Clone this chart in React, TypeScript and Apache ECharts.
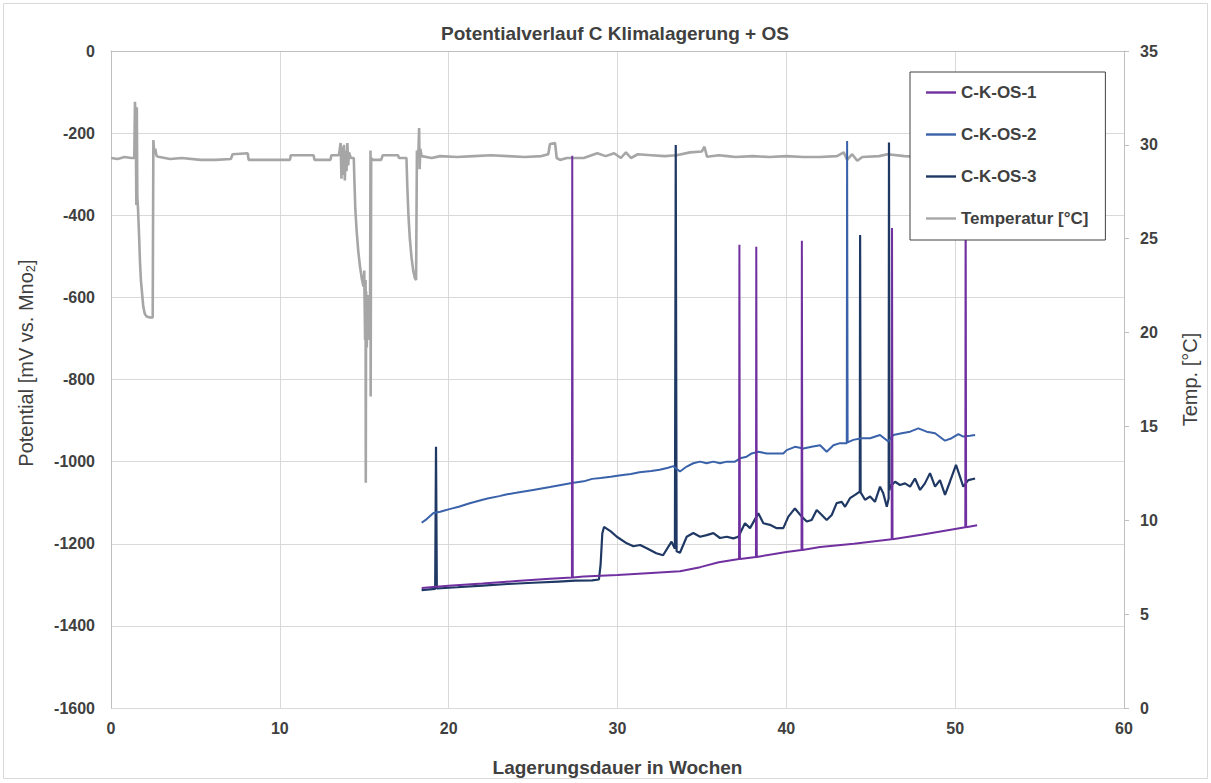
import React, { useEffect, useRef } from "react";
import * as echarts from "echarts";

// [week, mV]
const ckos1: [number, number][] = [
  [18.4, -1308], [20, -1302], [22, -1297], [24, -1291], [26, -1285], [27.3, -1282], [27.32, -255], [27.35, -1282],
  [28, -1280], [30, -1276], [32, -1271], [33.7, -1267], [34.9, -1257], [36, -1245], [37.2, -1237], [37.22, -472],
  [37.25, -1237], [38.2, -1232], [38.22, -477], [38.25, -1232], [40, -1220], [40.9, -1215], [40.92, -462],
  [40.95, -1215], [42, -1208], [44, -1200], [46.24, -1189], [46.26, -431], [46.29, -1189], [48, -1178],
  [50.6, -1160], [50.62, -300], [50.65, -1160], [51.3, -1155],
];

const ckos2: [number, number][] = [
  [18.4, -1149], [18.7, -1140], [19.1, -1125], [19.5, -1122], [20.1, -1115], [20.6, -1110], [21.2, -1102],
  [21.9, -1094], [22.3, -1090], [23.0, -1084], [23.4, -1080], [24.0, -1076], [25.0, -1069], [26.0, -1062],
  [27.3, -1052], [28.0, -1048], [28.5, -1042], [29.0, -1040], [29.6, -1037], [30.2, -1033], [30.8, -1030],
  [31.3, -1026], [32.0, -1023], [32.5, -1020], [33.0, -1015], [33.3, -1011], [33.7, -1024], [34.1, -1012],
  [34.49, -1004], [34.89, -1000], [35.28, -1004], [35.68, -1000], [36.07, -1004], [36.47, -1000],
  [36.96, -1000], [37.26, -992], [37.65, -988], [37.95, -980], [38.34, -976], [38.84, -980], [39.33, -980],
  [39.82, -980], [40.02, -972], [40.51, -964], [41.01, -968], [41.5, -964], [42.0, -960], [42.39, -976],
  [42.79, -960], [43.18, -955], [43.58, -955], [43.6, -219], [43.63, -953], [43.97, -947], [44.46, -943],
  [44.96, -943], [45.55, -935], [46.04, -951], [46.34, -935], [46.83, -931], [47.33, -927], [47.82, -919],
  [48.31, -927], [48.81, -931], [49.4, -949], [49.79, -943], [50.19, -933], [50.48, -939], [50.88, -937],
  [51.18, -935],
];

const ckos3: [number, number][] = [
  [18.4, -1313], [19.2, -1310], [19.25, -964], [19.3, -1309], [20.5, -1306], [22, -1302], [23.5, -1298],
  [25, -1295], [26.5, -1292], [27.5, -1290], [28.5, -1289], [28.9, -1287], [29.0, -1250], [29.1, -1175],
  [29.2, -1159], [29.6, -1170], [29.96, -1183], [30.55, -1199], [30.94, -1206], [31.34, -1203],
  [31.73, -1211], [32.3, -1223], [32.7, -1228], [33.2, -1195], [33.4, -1212], [33.45, -229], [33.5, -1218],
  [33.7, -1222], [34.1, -1183], [34.49, -1174], [34.89, -1183], [35.28, -1179], [35.68, -1174],
  [36.07, -1186], [36.47, -1183], [36.86, -1187], [37.16, -1183], [37.55, -1150], [37.85, -1162],
  [38.34, -1126], [38.64, -1150], [39.03, -1154], [39.43, -1162], [39.82, -1162], [40.12, -1134],
  [40.51, -1114], [40.91, -1134], [41.21, -1146], [41.5, -1142], [41.8, -1118], [42.1, -1130],
  [42.39, -1142], [42.69, -1130], [42.98, -1101], [43.28, -1098], [43.48, -1110], [43.77, -1089],
  [44.07, -1081], [44.35, -1073], [44.37, -448], [44.4, -1075], [44.66, -1093], [44.96, -1085],
  [45.25, -1098], [45.55, -1061], [45.74, -1077], [45.95, -1110], [46.06, -1090], [46.08, -223],
  [46.11, -1070], [46.14, -1061], [46.44, -1049], [46.73, -1057], [47.03, -1053], [47.33, -1061],
  [47.62, -1041], [47.92, -1069], [48.21, -1053], [48.51, -1028], [48.81, -1061], [49.1, -1045],
  [49.4, -1081], [49.69, -1049], [50.05, -1008], [50.29, -1037], [50.48, -1061], [50.78, -1045],
  [51.18, -1041],
];

// [week, °C]
const temperature: [number, number][] = [
  [0, 29.3], [0.4, 29.25], [0.8, 29.35], [1.2, 29.3], [1.38, 29.3], [1.42, 32.3], [1.47, 31.0], [1.5, 26.8],
  [1.53, 32.0], [1.56, 27.2], [1.6, 26.6], [1.67, 25.0], [1.72, 23.7], [1.77, 22.8], [1.82, 22.3],
  [1.91, 21.4], [2.0, 21.0], [2.11, 20.85], [2.3, 20.8], [2.47, 20.8], [2.51, 30.26], [2.56, 29.5],
  [2.62, 29.8], [2.7, 29.4], [2.8, 29.37], [3.5, 29.25], [4.2, 29.3], [5.3, 29.2], [6.2, 29.2], [7.1, 29.25],
  [7.2, 29.5], [8.1, 29.55], [8.15, 29.2], [9.5, 29.2], [10.6, 29.2], [10.65, 29.45], [12.0, 29.45],
  [12.05, 29.2], [13.0, 29.2], [13.05, 29.45], [13.5, 29.45], [13.6, 30.1], [13.65, 28.2], [13.7, 29.9],
  [13.75, 28.4], [13.8, 30.0], [13.85, 28.1], [13.9, 29.7], [13.95, 28.6], [14.0, 30.1], [14.05, 28.9],
  [14.1, 29.6], [14.2, 29.3], [14.38, 29.3], [14.42, 28.0], [14.47, 26.6], [14.55, 25.4], [14.65, 24.3],
  [14.75, 23.5], [14.85, 22.9], [14.95, 22.45], [15.0, 23.3], [15.05, 19.6], [15.08, 22.8], [15.09, 12.0],
  [15.11, 22.2], [15.15, 19.2], [15.2, 22.0], [15.25, 19.6], [15.3, 21.3], [15.34, 20.0], [15.37, 29.7],
  [15.38, 16.6], [15.41, 29.3], [15.5, 29.2], [16.0, 29.2], [16.1, 29.45], [17.0, 29.45], [17.05, 29.3],
  [17.5, 29.3], [17.55, 27.8], [17.62, 26.2], [17.7, 25.0], [17.8, 24.0], [17.9, 23.3], [18.0, 22.9],
  [18.07, 22.8], [18.12, 29.7], [18.2, 29.4], [18.25, 30.9], [18.28, 28.7], [18.32, 29.8], [18.4, 29.4],
  [19.0, 29.3], [19.5, 29.4], [20.5, 29.35], [21.5, 29.4], [22.5, 29.45], [23.5, 29.4], [24.5, 29.35],
  [25.5, 29.4], [25.9, 29.5], [26.0, 30.05], [26.3, 30.1], [26.4, 29.3], [26.6, 29.2], [27.0, 29.3],
  [28.0, 29.3], [28.8, 29.55], [29.3, 29.4], [29.8, 29.55], [30.2, 29.3], [30.5, 29.6], [30.8, 29.3],
  [31.2, 29.5], [32.0, 29.45], [32.8, 29.4], [33.5, 29.45], [34.3, 29.6], [35.0, 29.65], [35.15, 29.9],
  [35.3, 29.37], [36.0, 29.45], [36.5, 29.4], [37.0, 29.35], [38.0, 29.4], [39.0, 29.35], [40.0, 29.4],
  [41.0, 29.35], [42.0, 29.35], [43.0, 29.4], [43.4, 29.6], [43.6, 29.2], [43.9, 29.5], [44.2, 29.15],
  [44.5, 29.35], [45.5, 29.4], [46.0, 29.5], [47.0, 29.4], [48, 29.35], [49, 29.4], [50, 29.35], [51.3, 29.4],
];

const seriesNames = ["C-K-OS-1", "C-K-OS-2", "C-K-OS-3", "Temperatur [°C]"];
const seriesColors = ["#7030A0", "#3A62AA", "#1F3864", "#A6A6A6"];

const FONT = "'Liberation Sans', Arial, sans-serif";

export default function App() {
  const ref = useRef<HTMLDivElement>(null);
  useEffect(() => {
    const chart = echarts.init(ref.current!, null, { renderer: "svg" });
    const lineSeries = (idx: number, data: [number, number][], yAxisIndex: number, z: number, width: number) => ({
      name: seriesNames[idx],
      type: "line",
      data,
      yAxisIndex,
      z,
      symbol: "none",
      showSymbol: false,
      lineStyle: { color: seriesColors[idx], width },
      itemStyle: { color: seriesColors[idx] },
    });
    const plain = (v: number) => String(v);
    chart.setOption({
      animation: false,
      backgroundColor: "#ffffff",
      title: {
        text: "Potentialverlauf C Klimalagerung + OS",
        left: 610,
        textAlign: "center",
        top: 19,
        textStyle: { fontFamily: FONT, fontSize: 19, fontWeight: "bold", color: "#404040" },
      },
      graphic: [
        {
          type: "rect",
          shape: { x: 3.5, y: 3.5, width: 1204, height: 775 },
          style: { fill: "none", stroke: "#D9D9D9", lineWidth: 1 },
          silent: true,
        },
      ],
      legend: {
        orient: "vertical",
        left: 910,
        top: 72,
        data: seriesNames,
        icon: "path://M0,0 L30,0 L30,2.4 L0,2.4 Z",
        itemWidth: 30,
        itemHeight: 14,
        itemGap: 25,
        padding: [12, 17, 13, 16],
        borderColor: "#404040",
        borderWidth: 1,
        backgroundColor: "#ffffff",
        textStyle: { fontFamily: FONT, fontSize: 17, lineHeight: 17, fontWeight: "bold", color: "#404040" },
      },
      grid: { left: 111, right: 87, top: 51, bottom: 75 },
      xAxis: {
        type: "value",
        min: 0,
        max: 60,
        interval: 10,
        name: "Lagerungsdauer in Wochen",
        nameLocation: "middle",
        nameGap: 50,
        nameTextStyle: { fontFamily: FONT, fontSize: 19, fontWeight: "bold", color: "#404040" },
        axisLine: { show: true, lineStyle: { color: "#BFBFBF", width: 1 } },
        axisTick: { show: false },
        axisLabel: { margin: 12, fontFamily: FONT, fontSize: 16, fontWeight: "bold", color: "#404040", formatter: plain },
        splitLine: { show: true, lineStyle: { color: "#D9D9D9", width: 1 } },
      },
      yAxis: [
        {
          type: "value",
          min: -1600,
          max: 0,
          interval: 200,
          position: "left",
          name: "Potential [mV vs. Mno{sub|2}]",
          nameLocation: "middle",
          nameGap: 74,
          nameTextStyle: {
            fontFamily: FONT,
            fontSize: 20,
            color: "#404040",
            padding: [0, 0, 0, 33],
            rich: { sub: { fontFamily: FONT, fontSize: 13, color: "#404040", padding: [9, 0, 0, 0] } },
          },
          axisLine: { show: true, lineStyle: { color: "#BFBFBF", width: 1 } },
          axisTick: { show: false },
          axisLabel: { margin: 16, fontFamily: FONT, fontSize: 16, fontWeight: "bold", color: "#404040", formatter: plain },
          splitLine: { show: true, lineStyle: { color: "#D9D9D9", width: 1 } },
        },
        {
          type: "value",
          min: 0,
          max: 35,
          interval: 5,
          position: "right",
          name: "Temp. [°C]",
          nameLocation: "middle",
          nameGap: 56,
          nameTextStyle: { fontFamily: FONT, fontSize: 20, color: "#404040" },
          axisLine: { show: true, lineStyle: { color: "#BFBFBF", width: 1 } },
          axisTick: { show: true, length: 5, inside: false, lineStyle: { color: "#BFBFBF" } },
          axisLabel: { margin: 16, fontFamily: FONT, fontSize: 16, fontWeight: "bold", color: "#404040", formatter: plain },
          splitLine: { show: false },
        },
      ],
      series: [
        lineSeries(3, temperature, 1, 1, 2.6),
        lineSeries(2, ckos3, 0, 2, 2.2),
        lineSeries(1, ckos2, 0, 2, 2),
        lineSeries(0, ckos1, 0, 2, 2),
      ],
    });
    return () => chart.dispose();
  }, []);
  return (
    <div
      ref={ref}
      style={{ position: "fixed", left: 0, top: 0, width: 1211, height: 783, background: "#fff" }}
    />
  );
}
